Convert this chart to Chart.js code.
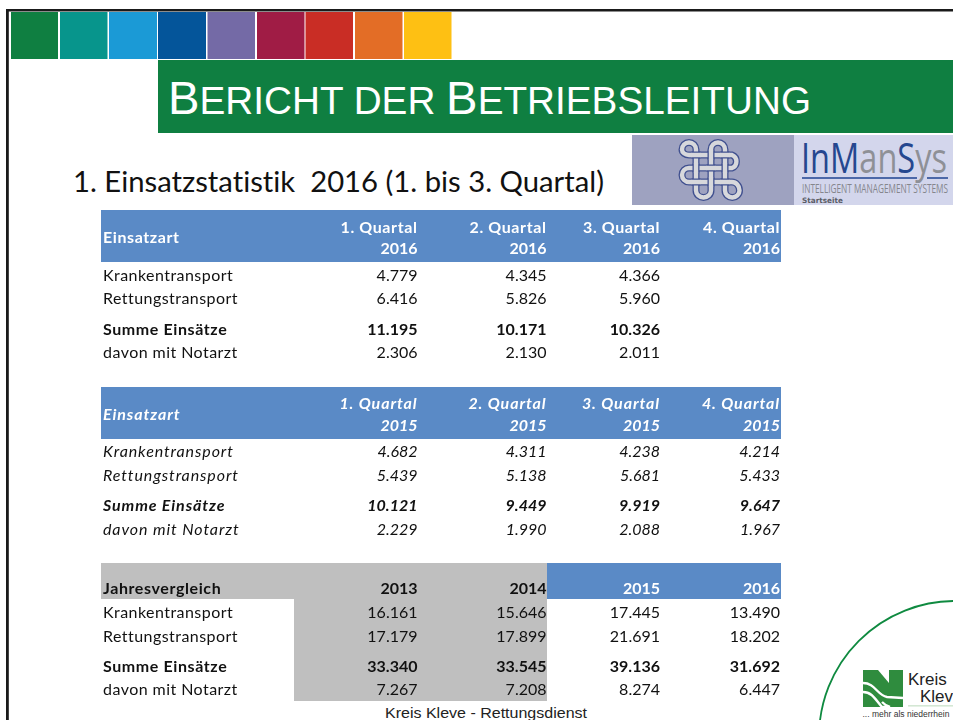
<!DOCTYPE html>
<html lang="de">
<head>
<meta charset="utf-8">
<title>Bericht der Betriebsleitung</title>
<script src="https://cdn.jsdelivr.net/npm/chart.js@4/dist/chart.umd.min.js"></script>
<style>
  html, body { margin: 0; padding: 0; background: #fff; }
  #page { position: relative; width: 953px; height: 720px; overflow: hidden; }
  #page svg, #page canvas { position: absolute; left: 0; top: 0; }
  .arial { font-family: "Liberation Sans", Arial, sans-serif; }
  .body { font-family: Lato, sans-serif; font-variant-ligatures: none; }
</style>
</head>
<body>
<div id="page">
  <svg width="953" height="720" viewBox="0 0 953 720">
    <rect x="6" y="9" width="947" height="2.5" fill="#1a1a1a"/>
    <rect x="6" y="9" width="2.8" height="711" fill="#1a1a1a"/>
    <g>
      <rect x="11" y="12" width="47" height="47" fill="#0F7F41"/>
      <rect x="60" y="12" width="47.5" height="47" fill="#07958C"/>
      <rect x="109" y="12" width="48" height="47" fill="#1B9AD6"/>
      <rect x="158" y="12" width="48" height="47" fill="#04559A"/>
      <rect x="207.5" y="12" width="47.5" height="47" fill="#746AA6"/>
      <rect x="257" y="12" width="47.5" height="47" fill="#A01C45"/>
      <rect x="305.5" y="12" width="47.5" height="47" fill="#C92D25"/>
      <rect x="355" y="12" width="47.5" height="47" fill="#E36D26"/>
      <rect x="404" y="12" width="47.5" height="47" fill="#FEC013"/>
    </g>
    <rect x="158" y="60" width="795" height="73" fill="#0F7F41"/>
    <text class="arial" x="168" y="113.5" fill="#fff" font-size="38.5" textLength="643" lengthAdjust="spacingAndGlyphs"><tspan font-size="47">B</tspan>ERICHT DER <tspan font-size="47">B</tspan>ETRIEBSLEITUNG</text>
    <text class="body" x="73" y="192" fill="#111" font-size="29" xml:space="preserve" textLength="531" lengthAdjust="spacingAndGlyphs">1. Einsatzstatistik  2016 (1. bis 3. Quartal)</text>

    <rect x="632" y="135" width="162" height="70" fill="#9EA2C0"/>
    <rect x="794" y="135" width="159" height="70" fill="#D3D6EC"/>
    <g fill="none">
      <path id="knot" stroke="#40508F" stroke-width="7" d="M711 149.5A7 7 0 0 1 725 149.5V190.5A7.25 7 0 0 0 739.5 190.5A7.5 8.5 0 0 0 732 182H689A7 7 0 0 1 689 168H732A7 7 0 0 0 732 155H689A7 5.5 0 0 1 682 149.5A7 7 0 0 1 696 149.5V190.5A7.5 7 0 0 0 711 190.5Z"/>
      <path stroke="#D7D8DC" stroke-width="4.4" d="M711 149.5A7 7 0 0 1 725 149.5V190.5A7.25 7 0 0 0 739.5 190.5A7.5 8.5 0 0 0 732 182H689A7 7 0 0 1 689 168H732A7 7 0 0 0 732 155H689A7 5.5 0 0 1 682 149.5A7 7 0 0 1 696 149.5V190.5A7.5 7 0 0 0 711 190.5Z"/>
      <path stroke="#40508F" stroke-width="7" d="M691.5 155h9M720.5 155h9M706.5 168h9M691.5 182h9M720.5 182h9M711 150.5v9M696 163.5v9M725 163.5v9M711 177.5v9"/>
      <path stroke="#D7D8DC" stroke-width="4.4" d="M691 155h10M720 155h10M706 168h10M691 182h10M720 182h10M711 150v10M696 163v10M725 163v10M711 177v10"/>
    </g>
    <text font-family="Open Sans" x="801" y="173" font-size="42" fill="#8E9096" textLength="146" lengthAdjust="spacingAndGlyphs"><tspan fill="#25478F">In</tspan><tspan fill="#25478F">M</tspan>an<tspan fill="#25478F">S</tspan>ys</text>
    <rect x="802" y="177" width="115" height="2" fill="#4C68A8"/>
    <rect x="927" y="177" width="21" height="2" fill="#4C68A8"/>
    <text font-family="Open Sans" x="802" y="192.5" font-size="13.5" fill="#85868C" textLength="146" lengthAdjust="spacingAndGlyphs">INTELLIGENT MANAGEMENT SYSTEMS</text>
    <text font-family="DejaVu Sans" font-weight="bold" x="802" y="202.5" font-size="7.5" fill="#5A5C66" textLength="41" lengthAdjust="spacingAndGlyphs">Startseite</text>

    <text class="arial" x="385" y="718" font-size="14.5" fill="#222" textLength="202" lengthAdjust="spacingAndGlyphs">Kreis Kleve - Rettungsdienst</text>

    <circle cx="955" cy="737" r="136" fill="none" stroke="#0F8A40" stroke-width="1.8"/>
    <rect x="863" y="670" width="40" height="37" fill="#2F8C3E"/>
    <path d="M878 670h11v13z" fill="#fff"/>
    <path d="M863 683c12 0 14 12 24 14l16 1M863 692c10 0 13 9 19 15h8c-4-1-6-3-8-5" fill="none" stroke="#fff" stroke-width="2.4"/>
    <text class="arial" x="908" y="685" font-size="17" fill="#222">Kreis</text>
    <text class="arial" x="920" y="702" font-size="17" fill="#222">Kleve</text>
    <rect x="908" y="705.5" width="45" height="0.8" fill="#a9cfa9"/>
    <text class="arial" x="862.5" y="717" font-size="8.5" fill="#333">... mehr als niederrhein</text>
  </svg>
  <canvas id="chart" width="953" height="720"></canvas>
</div>
<script>
'use strict';

// row names, same in all three tables
const rowNames = ['Krankentransport', 'Rettungstransport', 'Summe Einsätze', 'davon mit Notarzt'];
const headName2016 = 'Einsatzart';
const headName2015 = 'Einsatzart';
const headNameYears = 'Jahresvergleich';

const quarterNames = ['1. Quartal', '2. Quartal', '3. Quartal', '4. Quartal'];
const yearNames = ['2013', '2014', '2015', '2016'];

const q1of2016 = [4779, 6416, 11195, 2306];
const q2of2016 = [4345, 5826, 10171, 2130];
const q3of2016 = [4366, 5960, 10326, 2011];
const q4of2016 = [null, null, null, null];

const q1of2015 = [4682, 5439, 10121, 2229];
const q2of2015 = [4311, 5138, 9449, 1990];
const q3of2015 = [4238, 5681, 9919, 2088];
const q4of2015 = [4214, 5433, 9647, 1967];

const total2013 = [16161, 17179, 33340, 7267];
const total2014 = [15646, 17899, 33545, 7208];
const total2015 = [17445, 21691, 39136, 8274];
const total2016 = [13490, 18202, 31692, 6447];

// layout, in page pixels
const colRight = [417.5, 546.5, 660, 780];
const labelLeft = 103;
const bodyFontSize = 16;
const blue = '#5A8AC6';
const grey = '#BFBFBF';

const tables = [
  { italic: false, rowY: [276, 299, 330, 353], headName: headName2016, nameY: 238, unitY: 228, yearY: 249,
    units: quarterNames, year: '2016', cols: [q1of2016, q2of2016, q3of2016, q4of2016] },
  { italic: true, rowY: [452, 476, 506, 530], headName: headName2015, nameY: 415, unitY: 403.5, yearY: 426,
    units: quarterNames, year: '2015', cols: [q1of2015, q2of2015, q3of2015, q4of2015] },
  { italic: false, rowY: [613, 637, 667, 690], headName: headNameYears, nameY: 589, unitY: 589, yearY: null,
    units: yearNames, year: null, cols: [total2013, total2014, total2015, total2016],
    headInk: ['#111', '#111', '#fff', '#fff'] }
];

const fills = [
  { x0: 101, x1: 781, y0: 210, y1: 262, color: blue },
  { x0: 101, x1: 781, y0: 387, y1: 439, color: blue },
  { x0: 547, x1: 781, y0: 563, y1: 599, color: blue },
  { x0: 101, x1: 547, y0: 563, y1: 599, color: grey },
  { x0: 294, x1: 547, y0: 599, y1: 701, color: grey }
];

function germanNumber(v) {
  return String(v).replace(/\B(?=(\d{3})+$)/g, '.');
}

// Calibri sets words wider than Lato but digits about the same
function wordSpacing(text, bold, italic) {
  if (!/[a-z]/i.test(text)) return '0px';
  if (italic) return '0.9px';
  return bold ? '0.6px' : '0.45px';
}

// one scatter dataset per table column, the points carry the printed value
let datasets = [];
tables.forEach(t => {
  t.cols.forEach((col, c) => {
    datasets.push({
      italic: t.italic,
      align: 'right',
      data: col.map((v, r) => ({ x: colRight[c], y: t.rowY[r], text: v === null ? '' : germanNumber(v), bold: r === 2 }))
    });
    let head = [{ x: colRight[c], y: t.unitY, text: t.units[c], bold: true, ink: t.headInk ? t.headInk[c] : '#fff' }];
    if (t.year) head.push({ x: colRight[c], y: t.yearY, text: t.year, bold: true, ink: '#fff' });
    datasets.push({ italic: t.italic, align: 'right', data: head });
  });
  let names = t.rowY.map((y, r) => ({ x: labelLeft, y: y, text: rowNames[r], bold: r === 2 }));
  names.push({ x: labelLeft, y: t.nameY, text: t.headName, bold: true, ink: t.headInk ? '#111' : '#fff' });
  datasets.push({ italic: t.italic, align: 'left', data: names });
});

const cellPlugin = {
  id: 'cells',
  beforeDatasetsDraw(chart) {
    let ctx = chart.ctx, sx = chart.scales.x, sy = chart.scales.y;
    fills.forEach(f => {
      ctx.fillStyle = f.color;
      let px0 = sx.getPixelForValue(f.x0), py0 = sy.getPixelForValue(f.y0);
      ctx.fillRect(px0, py0, sx.getPixelForValue(f.x1) - px0, sy.getPixelForValue(f.y1) - py0);
    });
  },
  afterDatasetsDraw(chart) {
    let ctx = chart.ctx;
    ctx.save();
    ctx.textBaseline = 'middle';
    chart.data.datasets.forEach((ds, i) => {
      let meta = chart.getDatasetMeta(i);
      ctx.textAlign = ds.align;
      ds.data.forEach((cell, j) => {
        if (!cell.text) return;
        ctx.font = (ds.italic ? 'italic ' : '') + (cell.bold ? 'bold ' : '') + bodyFontSize + 'px Lato';
        ctx.letterSpacing = wordSpacing(cell.text, cell.bold, ds.italic);
        ctx.fillStyle = cell.ink || '#111';
        ctx.fillText(cell.text, meta.data[j].x, meta.data[j].y);
      });
    });
    ctx.restore();
  }
};

let ctx = document.getElementById('chart').getContext('2d');
new Chart(ctx, {
  type: 'scatter',
  data: { datasets: datasets },
  plugins: [cellPlugin],
  options: {
    responsive: false,
    animation: false,
    layout: { padding: 0 },
    elements: { point: { radius: 0, hoverRadius: 0 } },
    plugins: { legend: { display: false }, tooltip: { enabled: false } },
    scales: {
      x: { type: 'linear', min: 0, max: 953, display: false },
      y: { type: 'linear', min: 0, max: 720, reverse: true, display: false }
    }
  }
});
</script>
</body>
</html>
